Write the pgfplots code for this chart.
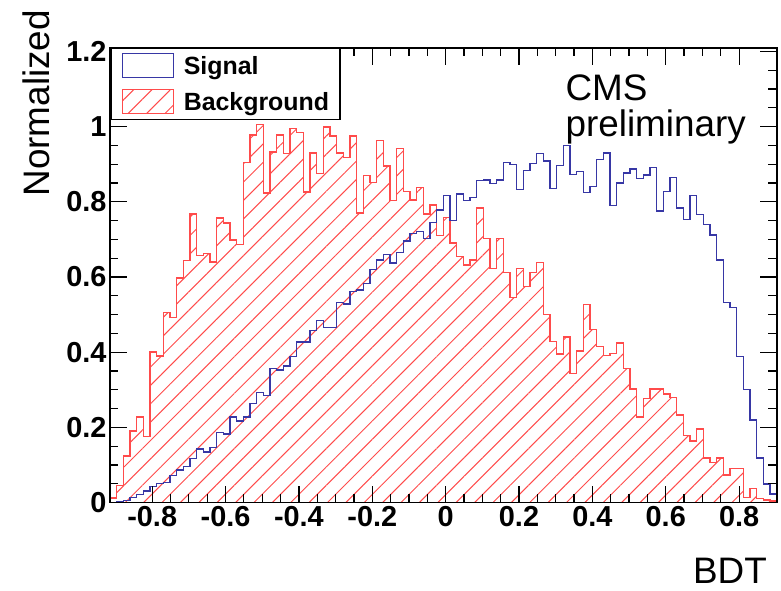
\documentclass[border=0pt]{standalone}
\usepackage{fontspec}
\setmainfont{Liberation Sans}
\usepackage{pgfplots}
\pgfplotsset{compat=1.18}
\usepackage{pgfplotstable}
\usetikzlibrary{patterns.meta}
\definecolor{sigblue}{RGB}{55,55,165}
\definecolor{bkgred}{RGB}{255,75,75}

\pgfplotstableread{
i sig bkg
0 0 0.012
1 0.002 0.045
2 0.005 0.124
3 0.013 0.19
4 0.022 0.228
5 0.031 0.175
6 0.042 0.40
7 0.05 0.39
8 0.054 0.505
9 0.072 0.492
10 0.087 0.597
11 0.095 0.644
12 0.117 0.768
13 0.142 0.657
14 0.134 0.663
15 0.147 0.64
16 0.187 0.757
17 0.182 0.744
18 0.227 0.698
19 0.217 0.686
20 0.227 0.904
21 0.263 0.978
22 0.293 1.006
23 0.285 0.823
24 0.356 0.932
25 0.352 0.978
26 0.363 0.929
27 0.389 0.995
28 0.427 0.985
29 0.427 0.826
30 0.458 0.93
31 0.485 0.875
32 0.465 0.999
33 0.465 0.975
34 0.532 0.93
35 0.528 0.918
36 0.561 0.975
37 0.565 0.77
38 0.582 0.87
39 0.62 0.852
40 0.645 0.963
41 0.66 0.895
42 0.637 0.804
43 0.665 0.942
44 0.696 0.828
45 0.716 0.805
46 0.721 0.838
47 0.703 0.768
48 0.745 0.791
49 0.778 0.71
50 0.816 0.758
51 0.75 0.69
52 0.821 0.654
53 0.803 0.632
54 0.812 0.645
55 0.856 0.783
56 0.858 0.703
57 0.849 0.623
58 0.858 0.703
59 0.904 0.612
60 0.9 0.545
61 0.833 0.623
62 0.883 0.575
63 0.902 0.612
64 0.929 0.639
65 0.909 0.50
66 0.836 0.428
67 0.897 0.395
68 0.949 0.44
69 0.873 0.344
70 0.88 0.403
71 0.824 0.527
72 0.841 0.461
73 0.913 0.415
74 0.93 0.391
75 0.79 0.397
76 0.85 0.424
77 0.877 0.357
78 0.887 0.302
79 0.862 0.228
80 0.871 0.277
81 0.891 0.302
82 0.776 0.302
83 0.827 0.289
84 0.865 0.279
85 0.784 0.233
86 0.753 0.178
87 0.816 0.164
88 0.766 0.196
89 0.74 0.118
90 0.712 0.106
91 0.645 0.118
92 0.532 0.073
93 0.519 0.091
94 0.388 0.091
95 0.301 0.014
96 0.219 0.038
97 0.118 0.011
98 0.049 0.007
99 0.023 0.004
100 0.023 0.004
}\histdata

\begin{document}
\begin{tikzpicture}
\begin{axis}[
  at={(0,0)}, anchor=south west,
  scale only axis, width=666.7bp, height=454.8bp,
  xmin=-0.915, xmax=0.9025, ymin=0, ymax=1.21,
  xtick={-0.8,-0.6,-0.4,-0.2,0,0.2,0.4,0.6,0.8},
  ytick={0,0.2,0.4,0.6,0.8,1,1.2},
  minor x tick num=3, minor y tick num=3,
  tick pos=both,
  major tick length=17bp, minor tick length=8.5bp,
  tick style={black, line width=1.2bp},
  axis line style={line width=1.8bp},
  axis on top,
  /pgf/number format/assume math mode=true,
  tick label style={font=\fontsize{29}{29}\selectfont\bfseries},
  xlabel={BDT}, ylabel={Normalized},
  every axis x label/.style={at={(axis description cs:0.9855,-0.177)}, anchor=base east, inner sep=0pt, font=\fontsize{37}{37}\selectfont},
  every axis y label/.style={at={(axis description cs:-0.09,1.083)}, rotate=90, anchor=base east, inner sep=0pt, font=\fontsize{37}{37}\selectfont},
  reverse legend,
  legend cell align=left,
  legend style={at={(axis description cs:0,1)}, anchor=north west, draw=black, line width=1.6bp, fill=white,
    font=\fontsize{25}{25}\selectfont\bfseries, inner xsep=11bp, inner ysep=5bp, row sep=11bp,
    nodes={inner sep=0bp},
    /tikz/every odd column/.append style={column sep=10bp}},
  legend image code/.code={\draw[#1, line width=1bp] (0bp,-12bp) rectangle (51bp,12bp);},
]
\addplot[draw=bkgred, line width=1.4bp, pattern={Lines[angle=45,distance=13bp,line width=1bp]}, pattern color=bkgred, const plot mark left]
  table[x expr={-0.915+0.018175*\thisrow{i}}, y=bkg]{\histdata} \closedcycle;
\addlegendentry{Background}
\addplot[draw=sigblue, line width=1.4bp, const plot mark left]
  table[x expr={-0.915+0.018175*\thisrow{i}}, y=sig]{\histdata} \closedcycle;
\addlegendentry{Signal}
\node[anchor=base west, font=\fontsize{37}{37}\selectfont, inner sep=0pt] at (axis description cs:0.683,0.885) {CMS};
\node[anchor=base west, font=\fontsize{37}{37}\selectfont, inner sep=0pt] at (axis description cs:0.683,0.804) {preliminary};
\end{axis}
\pgfresetboundingbox
\path[use as bounding box] (-110bp,-88.5bp) rectangle (671bp,502.5bp);
\end{tikzpicture}
\end{document}
